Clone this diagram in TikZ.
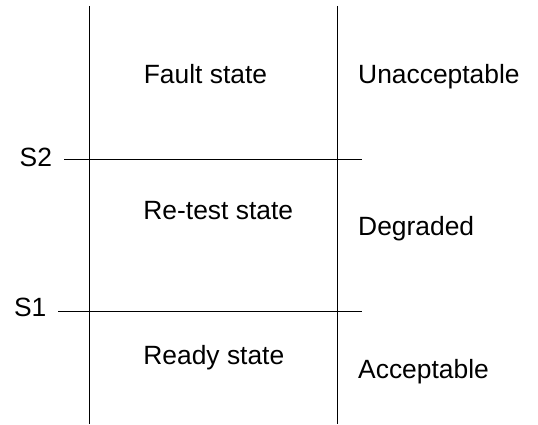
\documentclass[tikz,border=0pt]{standalone}
\usepackage{fontspec}
\setmainfont{Liberation Sans}
\begin{document}
\begin{tikzpicture}[x=1pt,y=-1pt,
  lbl/.style={anchor=base west,inner sep=0pt,font=\fontsize{26.4}{30}\selectfont},
  rule/.style={line width=1.2pt,black}]
\useasboundingbox (0,0) rectangle (538,425);
% coordinates
\coordinate (Ltop) at (89.5,6);
\coordinate (Lbot) at (89.5,424);
\coordinate (Rtop) at (337.3,6);
\coordinate (Rbot) at (337.3,424);
\coordinate (S2a) at (64.3,159.5);
\coordinate (S2b) at (362,159.5);
\coordinate (S1a) at (58.3,311.7);
\coordinate (S1b) at (362,311.7);
\draw[rule] (Ltop) -- (Lbot);
\draw[rule] (Rtop) -- (Rbot);
\draw[rule] (S2a) -- (S2b);
\draw[rule] (S1a) -- (S1b);
% labels
\node[lbl] (fault) at (143.6,83.3) {Fault state};
\node[lbl] (retest) at (143.2,219.3) {Re-test state};
\node[lbl] (ready) at (143.2,364) {Ready state};
\node[lbl] (unacc) at (358,83.3) {Unacceptable};
\node[lbl] (degr) at (358,235) {Degraded};
\node[lbl] (acc) at (358,378.3) {Acceptable};
\node[lbl] (s2) at (19.5,166.5) {S2};
\node[lbl] (s1) at (13.8,316.5) {S1};
\end{tikzpicture}
\end{document}
